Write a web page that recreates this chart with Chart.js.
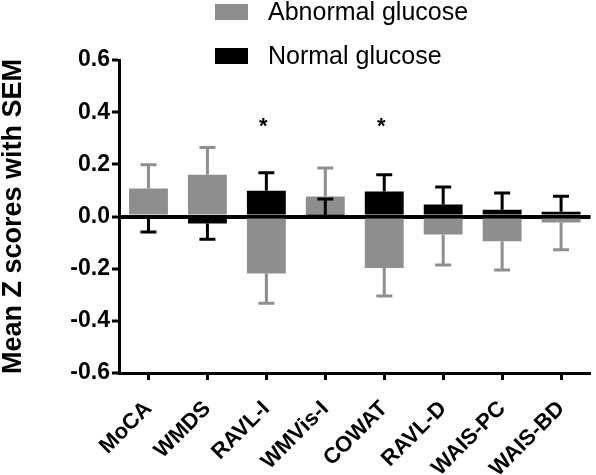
<!DOCTYPE html>
<html>
<head>
<meta charset="utf-8">
<script src="https://cdn.jsdelivr.net/npm/chart.js@4"></script>
<style>
  html, body { margin: 0; padding: 0; background: #fff; }
  #wrap { width: 596px; height: 475px; }
</style>
</head>
<body>
<div id="wrap"><canvas id="myChart" width="596" height="475"></canvas></div>
<script>
// data
var categories = ['MoCA', 'WMDS', 'RAVL-I', 'WMVis-I', 'COWAT', 'RAVL-D', 'WAIS-PC', 'WAIS-BD'];
var abnormalMeans = [0.107, 0.160, -0.219, 0.077, -0.197, -0.069, -0.095, -0.023];
var abnormalSem   = [0.091, 0.105, 0.114, 0.109, 0.108, 0.117, 0.110, 0.104];
var normalMeans   = [-0.004, -0.027, 0.099, 0.003, 0.096, 0.046, 0.026, 0.018];
var normalSem     = [0.055, 0.060, 0.069, 0.064, 0.064, 0.067, 0.064, 0.060];
var significant   = [false, false, true, false, true, false, false, false];
var yTicks = [-0.6, -0.4, -0.2, 0.0, 0.2, 0.4, 0.6];

var GRAY = '#8e8e8e';
var FONT = "'Liberation Sans', Arial, Helvetica, sans-serif";

// SEM bars, drawn away from zero, right after each dataset
var errorBars = {
  id: 'errorBars',
  afterDatasetDraw: function (chart, args) {
    var ds = chart.data.datasets[args.index];
    var y = chart.scales.y;
    var ctx = chart.ctx;
    ctx.save();
    ctx.strokeStyle = ds.backgroundColor;
    ctx.lineWidth = 3;
    args.meta.data.forEach(function (bar, i) {
      var v = ds.data[i];
      var end = v >= 0 ? v + ds.sem[i] : v - ds.sem[i];
      var y0 = y.getPixelForValue(v);
      var y1 = y.getPixelForValue(end);
      ctx.beginPath();
      ctx.moveTo(bar.x, y0);
      ctx.lineTo(bar.x, y1);
      ctx.moveTo(bar.x - 8, y1);
      ctx.lineTo(bar.x + 8, y1);
      ctx.stroke();
    });
    ctx.restore();
  }
};

// asterisks and the stacked legend at the top
var extras = {
  id: 'extras',
  afterDraw: function (chart) {
    var ctx = chart.ctx;
    var x = chart.scales.x, y = chart.scales.y;
    ctx.save();
    ctx.fillStyle = '#000';
    ctx.font = 'bold 22px ' + FONT;
    ctx.textAlign = 'center';
    ctx.textBaseline = 'alphabetic';
    significant.forEach(function (s, i) {
      if (s) ctx.fillText('*', x.getPixelForValue(i) - 3, y.getPixelForValue(0.32));
    });

    var items = [chart.data.datasets[1], chart.data.datasets[0]];
    ctx.textAlign = 'left';
    ctx.textBaseline = 'middle';
    ctx.font = '25px ' + FONT;
    items.forEach(function (ds, k) {
      var cy = 12 + k * 44;
      ctx.fillStyle = ds.backgroundColor;
      ctx.fillRect(215, cy - 8, 33, 16);
      ctx.fillStyle = '#000';
      ctx.fillText(ds.label, 268, cy + 1);
    });
    ctx.restore();
  }
};

var ctx = document.getElementById('myChart').getContext('2d');
var chart = new Chart(ctx, {
  type: 'bar',
  data: {
    labels: categories,
    datasets: [{
      label: 'Normal glucose',
      data: normalMeans,
      sem: normalSem,
      backgroundColor: '#000',
      borderWidth: 0,
      grouped: false,
      order: 0
    }, {
      label: 'Abnormal glucose',
      data: abnormalMeans,
      sem: abnormalSem,
      backgroundColor: GRAY,
      borderWidth: 0,
      grouped: false,
      order: 1
    }]
  },
  options: {
    responsive: false,
    animation: false,
    layout: { padding: { top: 60, right: 4, left: 0, bottom: 0 } },
    plugins: {
      legend: { display: false },
      tooltip: { enabled: false }
    },
    datasets: {
      bar: { barPercentage: 0.66, categoryPercentage: 1.0 }
    },
    scales: {
      x: {
        offset: true,
        border: { display: true, color: '#000', width: 3 },
        grid: {
          offset: false,
          drawOnChartArea: false,
          drawTicks: true,
          tickLength: 7,
          tickWidth: 3,
          tickColor: '#000'
        },
        ticks: {
          color: '#000',
          font: { family: FONT, size: 22, weight: 'bold' },
          maxRotation: 45,
          minRotation: 45,
          padding: 16,
          autoSkip: false
        },
        afterFit: function (scale) { scale.height = 102; }
      },
      y: {
        min: -0.6,
        max: 0.6,
        afterBuildTicks: function (scale) {
          scale.ticks = yTicks.map(function (v) { return { value: v }; });
        },
        border: { display: true, color: '#000', width: 3 },
        grid: {
          drawTicks: true,
          tickLength: 7,
          tickWidth: 3,
          tickColor: '#000',
          lineWidth: function (c) { return c.tick && c.tick.value === 0 ? 4 : 0; },
          color: function (c) { return c.tick && c.tick.value === 0 ? '#000' : 'rgba(0,0,0,0)'; }
        },
        ticks: {
          color: '#000',
          padding: 2,
          font: { family: FONT, size: 23, weight: 'bold' },
          callback: function (v) { return Number(v).toFixed(1); }
        },
        title: {
          display: true,
          text: 'Mean Z scores with SEM',
          color: '#000',
          padding: { top: 0, bottom: 0 },
          font: { family: FONT, size: 27, weight: 'bold', lineHeight: 1.0 }
        },
        afterFit: function (scale) { scale.width = 119; }
      }
    }
  },
  plugins: [errorBars, extras]
});
</script>
</body>
</html>
